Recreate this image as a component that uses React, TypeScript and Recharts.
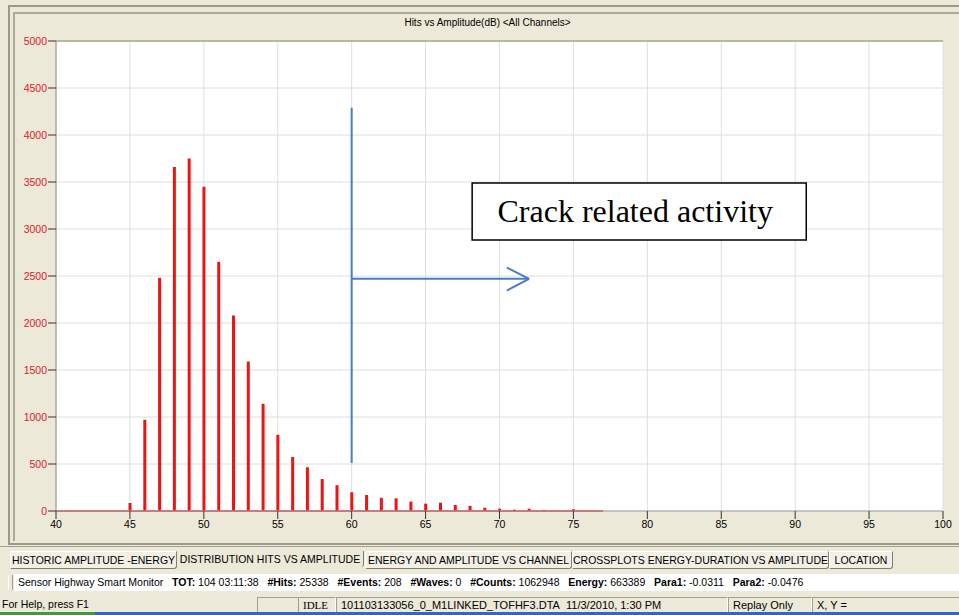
import React from 'react';
import { ComposedChart, Bar, XAxis, YAxis, CartesianGrid, ReferenceLine, ReferenceArea } from 'recharts';

// amplitude bins (dB) and hit counts
const amplitudes = [45, 46, 47, 48, 49, 50, 51, 52, 53, 54, 55, 56, 57, 58, 59, 60, 61, 62, 63, 64, 65, 66, 67, 68, 69, 70, 71, 72, 73, 74, 75, 76];
const hits = [85, 970, 2480, 3660, 3750, 3450, 2650, 2080, 1590, 1140, 810, 575, 465, 340, 275, 200, 170, 140, 135, 100, 78, 88, 65, 55, 35, 25, 15, 25, 12, 4, 18, 3];

const xTicks = [40, 45, 50, 55, 60, 65, 70, 75, 80, 85, 90, 95, 100];
const yTicks = [0, 500, 1000, 1500, 2000, 2500, 3000, 3500, 4000, 4500, 5000];

const tabs = [
    'HISTORIC AMPLITUDE -ENERGY',
    'DISTRIBUTION HITS VS AMPLITUDE',
    'ENERGY AND AMPLITUDE VS CHANNEL',
    'CROSSPLOTS ENERGY-DURATION VS AMPLITUDE',
    'LOCATION',
];

const data = amplitudes.map((a, i) => ({ amp: a, hits: hits[i] }));

const uiFont = '"Liberation Sans", Arial, sans-serif';
const beige = '#ECE9D8';
const blue = '#4A7DC4';

const BoxLabel = (props: any) => {
    const { x, y, width, height } = props.viewBox;
    return (
        <text
            x={x + width / 2 - 4}
            y={y + height / 2 + 10}
            textAnchor="middle"
            fontFamily='"Liberation Serif", "Times New Roman", serif'
            fontSize={32}
            fill="#000"
        >
            Crack related activity
        </text>
    );
};

const StatusPane: React.FC<{ left: number; width: number; children?: React.ReactNode }> = ({ left, width, children }) => (
    <div
        style={{
            position: 'absolute',
            left,
            top: 597,
            width,
            height: 14,
            borderTop: '1px solid #A0A090',
            borderLeft: '1px solid #A0A090',
            borderRight: '1px solid #fff',
            borderBottom: '1px solid #fff',
            paddingLeft: 4,
            lineHeight: '14px',
            whiteSpace: 'nowrap',
            overflow: 'hidden',
        }}
    >
        {children}
    </div>
);

const App: React.FC = () => {
    const tabEdges = [10, 177, 365, 572, 829, 893];
    return (
        <div style={{ position: 'absolute', left: 0, top: 0, width: 959, height: 615, background: beige, overflow: 'hidden', fontFamily: uiFont, fontSize: 11, color: '#000' }}>
            {/* window frame */}
            <div style={{ position: 'absolute', left: 8, top: 5, width: 960, height: 536, borderTop: '2px solid #9A998C', borderLeft: '2px solid #9A998C', borderBottom: '2px solid #9A998C' }} />
            <div style={{ position: 'absolute', left: 13, top: 12, width: 960, height: 527, borderTop: '2px solid #ACAA9A', borderLeft: '2px solid #ACAA9A' }} />
            <div style={{ position: 'absolute', left: 0, top: 546, width: 959, height: 0, borderTop: '1px solid #A0A090' }} />

            <div style={{ position: 'absolute', left: 0, top: 17, width: 975, textAlign: 'center', fontSize: 10 }}>
                Hits vs Amplitude(dB) &lt;All Channels&gt;
            </div>

            <div style={{ position: 'absolute', left: 0, top: 0 }}>
                <ComposedChart width={959} height={545} data={data} margin={{ top: 41, right: 16, left: 9, bottom: 0 }}>
                    <CartesianGrid stroke="#DEDEDE" fill="#fff" fillOpacity={1} />
                    <XAxis
                        dataKey="amp"
                        type="number"
                        domain={[40, 100]}
                        ticks={xTicks}
                        height={34}
                        tick={{ fill: '#000', fontSize: 10.5, fontFamily: uiFont }}
                        tickLine={{ stroke: '#333' }}
                        tickSize={8}
                        axisLine={{ stroke: '#A0A0A0' }}
                    />
                    <YAxis
                        type="number"
                        domain={[0, 5000]}
                        ticks={yTicks}
                        width={47}
                        interval={0}
                        tick={{ fill: '#D8202C', fontSize: 10.5, fontFamily: uiFont }}
                        tickLine={{ stroke: '#333' }}
                        tickSize={8}
                        tickMargin={1}
                        axisLine={{ stroke: '#8C8C8C' }}
                    />
                    <ReferenceLine y={5000} stroke="#A8A880" strokeWidth={1.5} />
                    <Bar dataKey="hits" fill="#EE1414" barSize={3} isAnimationActive={false} />
                    <ReferenceLine segment={[{ x: 40, y: 0 }, { x: 77, y: 0 }]} stroke="#E0303A" strokeWidth={1.5} />

                    {/* annotations */}
                    <ReferenceLine segment={[{ x: 60, y: 510 }, { x: 60, y: 4290 }]} stroke={blue} strokeWidth={2} />
                    <ReferenceLine segment={[{ x: 60, y: 2470 }, { x: 72, y: 2470 }]} stroke={blue} strokeWidth={2} />
                    <ReferenceLine segment={[{ x: 70.5, y: 2590 }, { x: 72, y: 2470 }]} stroke={blue} strokeWidth={2} />
                    <ReferenceLine segment={[{ x: 70.5, y: 2345 }, { x: 72, y: 2470 }]} stroke={blue} strokeWidth={2} />
                    <ReferenceArea x1={68.15} x2={90.75} y1={2883} y2={3489} fill="#fff" fillOpacity={1} stroke="#000" strokeWidth={1.5} label={<BoxLabel />} />
                </ComposedChart>
            </div>

            {/* tabs */}
            {tabs.map((t, i) => (
                <div
                    key={t}
                    style={{
                        position: 'absolute',
                        left: tabEdges[i],
                        top: 551,
                        width: tabEdges[i + 1] - tabEdges[i] - 2,
                        height: 16,
                        lineHeight: '16px',
                        textAlign: 'center',
                        whiteSpace: 'nowrap',
                        background: i === 1 ? beige : '#F2F0E4',
                        borderTop: i === 1 ? 'none' : '1px solid #fff',
                        borderLeft: i === 1 ? 'none' : '1px solid #fff',
                        borderRight: '1px solid #80806F',
                        borderBottom: i === 1 ? 'none' : '1px solid #80806F',
                        borderRadius: '0 0 3px 0',
                        fontSize: 10.5,
                    }}
                >
                    {t}
                </div>
            ))}

            {/* status line */}
            <div style={{ position: 'absolute', left: 8, top: 575, width: 3, height: 15, borderLeft: '1px solid #fff', borderRight: '1px solid #A0A090' }} />
            <div style={{ position: 'absolute', left: 14, top: 574, width: 945, height: 17, background: '#fff', lineHeight: '17px', paddingLeft: 4, whiteSpace: 'nowrap', fontSize: 10.5 }}>
                Sensor Highway Smart Monitor&nbsp;&nbsp; <b>TOT:</b> 104 03:11:38&nbsp;&nbsp; <b>#Hits:</b> 25338&nbsp;&nbsp; <b>#Events:</b> 208&nbsp;&nbsp; <b>#Waves:</b> 0&nbsp;&nbsp; <b>#Counts:</b> 1062948&nbsp;&nbsp; <b>Energy:</b> 663389&nbsp;&nbsp; <b>Para1:</b> -0.0311&nbsp;&nbsp; <b>Para2:</b> -0.0476
            </div>

            {/* bottom status bar */}
            <div style={{ position: 'absolute', left: 2, top: 597, lineHeight: '14px', fontSize: 10.5 }}>For Help, press F1</div>
            <StatusPane left={257} width={36} />
            <StatusPane left={298} width={32}>
                <span style={{ fontFamily: '"Liberation Serif", serif' }}>IDLE</span>
            </StatusPane>
            <StatusPane left={336} width={386}>101103133056_0_M1LINKED_TOFHF3.DTA&nbsp; 11/3/2010, 1:30 PM</StatusPane>
            <StatusPane left={728} width={78}>Replay Only</StatusPane>
            <StatusPane left={812} width={150}>X, Y =</StatusPane>

            <div style={{ position: 'absolute', left: 0, top: 612, width: 95, height: 3, background: '#3D9A3D' }} />
            <div style={{ position: 'absolute', left: 95, top: 612, width: 864, height: 3, background: '#2F63D6' }} />
        </div>
    );
};

export default App;
